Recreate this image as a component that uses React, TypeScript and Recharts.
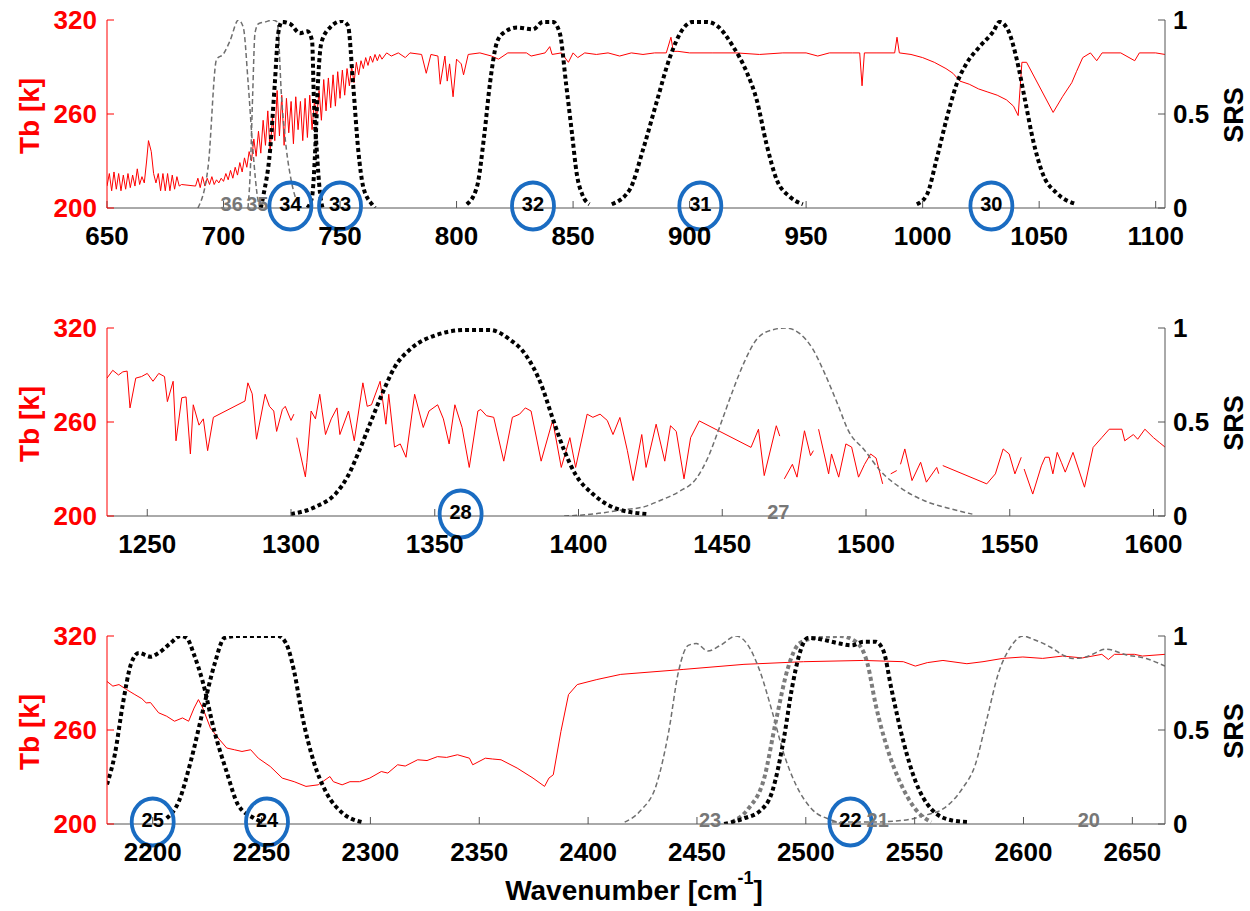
import React from "react";
import { LineChart, Line, XAxis, YAxis, ReferenceDot, Label } from "recharts";

type Pt = [number, number | null];

const FONT = "'Liberation Sans', Arial, Helvetica, sans-serif";

// ---------- panel 1 (650 - 1100 cm-1) ----------
const ticks1 = [650, 700, 750, 800, 850, 900, 950, 1000, 1050, 1100];
const tb1: Pt[] = [
  [650, 214], [651, 222], [652, 211], [653, 223], [654, 212], [655, 222], [656, 211], [657, 221],
  [658, 212], [659, 222], [660, 213], [661, 221], [662, 214], [663, 225], [664, 215], [665, 220],
  [666, 216], [667, 230], [667.8, 243], [669, 236], [670, 222], [671, 216], [672, 222], [673, 211],
  [674, 222], [675, 211], [676, 222], [677, 211], [678, 221], [679, 212], [680, 220], [681, 214],
  [682, 215], [688, 214], [689, 219], [690, 213], [691, 220], [692, 214], [693, 219], [694, 215],
  [695, 220], [696, 215], [697, 218], [698, 216], [699, 219], [700, 217], [701, 222], [702, 218],
  [703, 224], [704, 219], [705, 226], [706, 221], [707, 229], [708, 223], [709, 232], [710, 226],
  [711, 236], [712, 230], [713, 244], [714, 233], [715, 249], [716, 235], [717, 256], [718, 240],
  [719, 262], [720, 236], [721, 258], [722, 243], [723, 275], [724, 246], [725, 272], [726, 240],
  [727, 270], [728, 248], [729, 268], [730, 241], [731, 271], [732, 250], [733, 268], [734, 243],
  [735, 270], [736, 245], [737, 272], [738, 250], [739, 268], [740, 258], [741, 275], [742, 256],
  [743, 282], [744, 262], [745, 283], [746, 264], [747, 285], [748, 265], [749, 287], [750, 270],
  [751, 288], [752, 272], [753, 289], [754, 278], [755, 290], [756, 280], [757, 293], [758, 285],
  [759, 294], [760, 289], [761, 296], [762, 291], [763, 297], [764, 293], [765, 298], [766, 294],
  [767, 298], [768, 295], [770, 299], [772, 297], [775, 299], [778, 296], [780, 299], [785, 298],
  [787, 286], [789, 298], [792, 297], [793, 279], [795, 297], [796, 281], [797, 292], [798.5, 271],
  [800, 295], [802, 292], [803, 285], [805, 298], [810, 299], [815, 297], [818, 295], [822, 299],
  [830, 299], [832, 297], [838, 299], [840, 303], [841, 298], [845, 299], [848, 293], [850, 299],
  [852, 296], [855, 299], [860, 298], [865, 299], [870, 297], [875, 299], [880, 298], [885, 299],
  [890, 299], [892, 309], [893, 300], [895, 300], [900, 299], [910, 299], [920, 299], [930, 298],
  [940, 299], [950, 299], [955, 297], [960, 299], [970, 299], [973, 299], [974, 278], [975, 299],
  [980, 299], [988, 299], [989, 309], [990, 299], [995, 298], [1000, 296], [1005, 293], [1010, 289],
  [1013, 286], [1016, 281], [1020, 279], [1024, 276], [1028, 274], [1032, 272], [1036, 269],
  [1039, 265], [1041, 259], [1042.6, 293], [1044.6, 293], [1056, 261], [1060, 271], [1064, 280],
  [1066, 287], [1068.7, 296], [1072, 299], [1074.7, 294], [1077, 299], [1085, 299], [1091, 294],
  [1093, 299], [1100, 299], [1104, 298],
];
const srs36: Pt[] = [
  [689, 0], [693.4, 0.22], [697, 0.79], [700, 0.82], [702.8, 0.89], [706.4, 1.0], [708.5, 0.96],
  [710.6, 0.66], [712.6, 0.31], [714.8, 0.04], [715.6, 0],
];
const srs35: Pt[] = [
  [710.5, 0], [711.5, 0.2], [712.5, 0.6], [713.5, 0.93], [715, 0.98], [718, 0.99], [721, 1.0],
  [723, 0.99], [725, 0.57], [727, 0.31], [729, 0.15], [731, 0.05], [733, 0],
];
const srs34: Pt[] = [
  [716, 0], [717, 0.06], [720, 0.31], [722, 0.66], [723.5, 0.93], [725, 0.99], [728.5, 0.98],
  [732.8, 0.93], [736, 0.94], [738, 0.89], [738.8, 0.57], [740, 0.31], [741.4, 0.08], [742.5, 0],
];
const srs33: Pt[] = [
  [736, 0], [738, 0.06], [739.5, 0.35], [740.5, 0.66], [742, 0.88], [745.7, 0.96], [751, 0.995],
  [753.4, 0.97], [755.6, 0.66], [757.8, 0.31], [760, 0.11], [763.7, 0.02], [765, 0],
];
const srs32: Pt[] = [
  [804.4, 0.02], [808.7, 0.11], [812, 0.4], [814.3, 0.66], [817.3, 0.88], [820, 0.93], [826, 0.96],
  [832.8, 0.95], [837, 0.99], [841.3, 0.99], [844.3, 0.93], [847, 0.66], [849.5, 0.4],
  [851.6, 0.18], [854, 0.07], [857, 0.02],
];
const srs31: Pt[] = [
  [866.6, 0.02], [874.4, 0.1], [880, 0.31], [886, 0.57], [891.5, 0.8], [897, 0.95], [901.4, 0.99],
  [907.4, 0.99], [911.7, 0.97], [918.6, 0.86], [924.6, 0.72], [928.9, 0.57], [933, 0.34],
  [937.4, 0.15], [943, 0.06], [948.6, 0.02],
];
const srs30: Pt[] = [
  [997.5, 0.02], [1001.8, 0.07], [1006, 0.26], [1010.4, 0.48], [1014.6, 0.66], [1018.9, 0.77],
  [1024.6, 0.86], [1030.4, 0.94], [1033, 0.99], [1036.5, 0.95], [1040.4, 0.79], [1044, 0.57],
  [1047.4, 0.36], [1051.6, 0.18], [1057.5, 0.08], [1066, 0.02],
];
const marks1 = [
  { x: 703.5, text: "36", circled: false },
  { x: 714.5, text: "35", circled: false },
  { x: 728.7, text: "34", circled: true },
  { x: 750, text: "33", circled: true },
  { x: 832.8, text: "32", circled: true },
  { x: 904.6, text: "31", circled: true },
  { x: 1029.5, text: "30", circled: true },
];

// ---------- panel 2 (1250 - 1600 cm-1) ----------
const ticks2 = [1250, 1300, 1350, 1400, 1450, 1500, 1550, 1600];
const tb2: Pt[] = [
  [1236, 288], [1238, 293], [1240, 290], [1241.5, 292], [1243, 292.5], [1244, 269], [1246, 288],
  [1248, 289], [1250, 291], [1252, 286], [1254, 291], [1256, 289], [1257, 273], [1259, 286],
  [1260, 248], [1262, 275.5], [1263.5, 276], [1265, 239.6], [1266, 271], [1268, 258],
  [1269.5, 262], [1271, 241.7], [1273, 263], [1284, 273.4], [1285, 285], [1286.5, 278],
  [1288, 249], [1291, 277.7], [1292.5, 270], [1294, 267], [1295, 254], [1297, 268], [1298, 270],
  [1300, 261], [1301, 265], [1301.5, null], [1302, 250], [1305, 225], [1305.5, 234], [1307, 267],
  [1308.5, 262], [1310, 277.7], [1312, 252], [1314, 262], [1316, 269], [1317, 252], [1320, 267],
  [1322, 248], [1325, 285], [1326.5, 270], [1328, 271], [1331, 286], [1333, 258.6],
  [1334, 277.7], [1336, 244], [1338, 246], [1340, 237.5], [1343, 277.7], [1346, 256.5],
  [1348, 267], [1351, 271], [1353, 262], [1355, 246], [1357, 271], [1359.5, 256.5], [1362, 231],
  [1365, 267], [1366, 268], [1368, 264], [1370.5, 263], [1374, 235], [1377, 263], [1379.5, 265],
  [1381.5, 269], [1383.5, 267], [1387, 235], [1391, 261], [1394, 231], [1397, 250], [1399, 231],
  [1403, 265], [1405, 263], [1407.5, 265], [1410, 261], [1412, 252], [1414.4, 262.9],
  [1417, 241.7], [1419, 222.6], [1422, 252], [1423.5, 231], [1427, 258.6], [1430, 235],
  [1432, 257.6], [1434, 254], [1436.7, 223.7], [1439, 250], [1442, 260.7], [1460, 243.8],
  [1462.6, 255.4], [1464.6, 225.8], [1468.8, 257.6], [1470, 251], [1470.8, null],
  [1471.6, 223.7], [1474.4, 233], [1476, 224.8], [1478.6, 254.4], [1480.7, 238.5],
  [1481.7, 241.7], [1482.5, null], [1483.5, 255.4], [1487, 226.9], [1488, 239.6],
  [1490.5, 224.8], [1493, 246], [1495, 244], [1497.4, 224.8], [1499.5, 233], [1501.6, 239.6],
  [1503.5, 237], [1505.8, 220.5], [1507, null], [1508.6, 226.9], [1510.7, 229], [1511.3, null],
  [1512, 233], [1513.5, 242.8], [1516, 222.6], [1519, 234.3], [1521, 221.6], [1524.6, 231],
  [1525.3, 227], [1526, null], [1526.7, 232.2], [1542, 220.5], [1545, 226.9], [1547.7, 242.8],
  [1549.8, 239.6], [1551.8, 226.9], [1554, 237.5], [1554.5, null], [1555, 230], [1558, 214],
  [1561, 232], [1562.3, 237.5], [1563.7, 237.5], [1565, 226.9], [1566.5, 240.6], [1568, 234],
  [1569.3, 228], [1572, 240.6], [1576, 218.4], [1579, 243.8], [1582, 250], [1584.6, 255.4],
  [1589, 255.4], [1590, 248], [1593, 252], [1594.5, 249], [1597, 255.4], [1600, 250],
  [1602, 247], [1604, 244],
];
const srs28: Pt[] = [
  [1300, 0.01], [1308.7, 0.05], [1315.6, 0.12], [1319.7, 0.21], [1323.8, 0.35], [1328, 0.51],
  [1332, 0.66], [1336, 0.79], [1341.7, 0.89], [1350, 0.96], [1361, 0.99], [1369, 0.99],
  [1376, 0.94], [1381.5, 0.86], [1387, 0.7], [1391, 0.52], [1395, 0.35], [1399, 0.22],
  [1404.8, 0.12], [1413, 0.04], [1424, 0.01],
];
const srs27: Pt[] = [
  [1395, 0], [1405, 0.01], [1414, 0.03], [1423, 0.05], [1428, 0.08], [1435, 0.13], [1441, 0.2],
  [1445, 0.31], [1449, 0.47], [1453.5, 0.66], [1457.7, 0.82], [1462, 0.94], [1467.4, 0.99],
  [1472, 1.0], [1477, 0.97], [1481.4, 0.89], [1485.6, 0.76], [1490, 0.6], [1494, 0.45],
  [1499.5, 0.35], [1505, 0.24], [1512, 0.15], [1520.5, 0.08], [1529, 0.04], [1537, 0.01],
];
const marks2 = [
  { x: 1359, text: "28", circled: true },
  { x: 1469.5, text: "27", circled: false },
];

// ---------- panel 3 (2200 - 2650 cm-1) ----------
const ticks3 = [2200, 2250, 2300, 2350, 2400, 2450, 2500, 2550, 2600, 2650];
const tb3: Pt[] = [
  [2179, 291], [2181.7, 288], [2184.5, 289], [2188, 285.8], [2191.8, 282.6], [2195, 280],
  [2197, 277.3], [2199, 277.5], [2202.7, 271], [2206.4, 268.8], [2210, 265.6], [2213.7, 267.7],
  [2216.5, 265.6], [2219, 274], [2221, 279.4], [2223, 274], [2226.5, 261.3], [2230, 255],
  [2234, 248.5], [2237.5, 247.4], [2241, 246.3], [2245, 247.4], [2248.5, 242], [2254, 236.7],
  [2259.5, 229.3], [2265, 227], [2270.4, 224], [2276, 225], [2281.4, 230.3], [2283, 227],
  [2287, 225], [2290.6, 227], [2295, 227], [2299.7, 229.3], [2305, 233.5], [2308, 232.5],
  [2312.5, 237.8], [2316, 237], [2321.7, 241], [2326, 240.5], [2330.8, 243], [2335, 242.5],
  [2340, 244.2], [2345.5, 242], [2347, 237.8], [2352.8, 242], [2356, 241.5], [2360, 241],
  [2367.4, 235.7], [2374.7, 229.3], [2380, 224], [2382, 229.3], [2384, 231.4],
  [2387.5, 259], [2391, 282.6], [2395, 289], [2404, 292.2], [2415, 295.5], [2444, 298.7],
  [2471.6, 301.9], [2499, 303.6], [2526.5, 304.4], [2544.8, 303.6], [2550.3, 300.8],
  [2555.8, 303], [2563, 304.4], [2574, 302.3], [2581.4, 303.6], [2590.5, 305.7],
  [2599.7, 306.6], [2608.8, 305.7], [2618, 307.2], [2627, 306], [2636, 308.3], [2639, 305],
  [2641.8, 308.3], [2651, 308.3], [2654.6, 307.2], [2665, 308.3],
];
const srs25: Pt[] = [
  [2179, 0.21], [2182.6, 0.37], [2186.3, 0.64], [2190, 0.85], [2193.6, 0.91], [2199, 0.89],
  [2202.7, 0.91], [2208, 0.96], [2212.8, 1.0], [2215.6, 0.99], [2219, 0.9], [2222.9, 0.76],
  [2228.4, 0.49], [2233.9, 0.28], [2239.3, 0.1], [2246.7, 0.03], [2250, 0.01],
];
const srs24: Pt[] = [
  [2206.4, 0.03], [2212, 0.12], [2217.4, 0.33], [2223, 0.6], [2228.4, 0.85], [2233, 0.99],
  [2239.3, 1], [2257.6, 1], [2261.3, 0.96], [2265, 0.81], [2268.6, 0.58], [2274, 0.33],
  [2279.6, 0.17], [2287, 0.06], [2296, 0.01],
];
const srs23: Pt[] = [
  [2416.8, 0.01], [2424, 0.07], [2431.4, 0.21], [2437, 0.49], [2441.5, 0.81], [2446, 0.95],
  [2449.7, 0.96], [2455, 0.92], [2460.7, 0.95], [2468, 1.0], [2473.5, 0.95], [2479, 0.81],
  [2484.5, 0.6], [2490, 0.37], [2495.4, 0.21], [2502.7, 0.08], [2512, 0.02], [2517, 0],
];
const srs22: Pt[] = [
  [2462.5, 0], [2471.6, 0.03], [2479, 0.07], [2484.5, 0.17], [2490, 0.46], [2493.6, 0.72],
  [2497, 0.9], [2501, 0.99], [2508, 0.98], [2515.5, 0.96], [2521, 0.95], [2526.5, 0.97],
  [2532, 0.97], [2535.7, 0.92], [2539.3, 0.72], [2544.8, 0.44], [2550.3, 0.23], [2557.6, 0.08],
  [2566.8, 0.02], [2575, 0.01],
];
const srs21: Pt[] = [
  [2466, 0.01], [2473.5, 0.08], [2480.8, 0.24], [2486.3, 0.55], [2491.8, 0.83], [2497, 0.96],
  [2504.6, 0.99], [2515.5, 1.0], [2522.9, 0.97], [2528.4, 0.85], [2532, 0.64], [2537.5, 0.4],
  [2543, 0.23], [2550.3, 0.08], [2557.6, 0.01],
];
const srs20: Pt[] = [
  [2512, 0.01], [2530, 0.01], [2545, 0.02], [2555.8, 0.05], [2563, 0.08], [2572, 0.19],
  [2577.7, 0.31], [2583, 0.55], [2588.7, 0.81], [2594, 0.94], [2599.7, 1.0], [2605, 0.98],
  [2612.5, 0.94], [2618, 0.9], [2622.6, 0.88], [2629, 0.89], [2638, 0.93], [2647, 0.9],
  [2656.4, 0.88], [2665, 0.84],
];
const marks3 = [
  { x: 2200, text: "25", circled: true },
  { x: 2252.5, text: "24", circled: true },
  { x: 2456, text: "23", circled: false },
  { x: 2520.5, text: "22", circled: true },
  { x: 2533, text: "21", circled: false },
  { x: 2630, text: "20", circled: false },
];

const toRows = (pts: Pt[]) => pts.map(([x, y]) => ({ x, y }));

type Kind = "black" | "gray" | "grayThick";
const STYLE: Record<Kind, { stroke: string; width: number; dash: string }> = {
  black: { stroke: "#000000", width: 4, dash: "4 3" },
  gray: { stroke: "#6f6f6f", width: 1.5, dash: "5 3" },
  grayThick: { stroke: "#7c7c7c", width: 4, dash: "4 3" },
};

interface Mark {
  x: number;
  text: string;
  circled: boolean;
}

function BandMark(props: any) {
  const { cx, cy, text, circled } = props;
  if (cx == null || cy == null) return null;
  return (
    <g>
      <text
        x={cx}
        y={cy - 4}
        textAnchor="middle"
        dominantBaseline="central"
        fontFamily={FONT}
        fontWeight="bold"
        fontSize={20}
        fill={circled ? "#000" : "#777"}
      >
        {text}
      </text>
      {circled && (
        <ellipse cx={cx} cy={cy - 2} rx={21} ry={23.5} fill="none" stroke="#1a6cc2" strokeWidth={3.8} />
      )}
    </g>
  );
}

interface PanelProps {
  top: number;
  height: number;
  domain: [number, number];
  ticks: number[];
  tb: Pt[];
  srf: { pts: Pt[]; kind: Kind }[];
  marks: Mark[];
  title?: boolean;
}

const tickFont = { fontFamily: FONT, fontWeight: "bold" as const, fontSize: 26 };

function Panel({ top, height, domain, ticks, tb, srf, marks, title }: PanelProps) {
  return (
    <div style={{ position: "absolute", left: 0, top }}>
      <LineChart
        width={1250}
        height={height}
        margin={{ top: 20, right: 40, bottom: height - 248, left: 0 }}
      >
        <XAxis
          xAxisId="b"
          dataKey="x"
          type="number"
          domain={domain}
          ticks={ticks}
          allowDataOverflow
          interval={0}
          height={40}
          tickSize={-7}
          tickMargin={26}
          axisLine={{ stroke: "#555" }}
          tickLine={{ stroke: "#555" }}
          tick={{ ...tickFont, fill: "#000" }}
        >
          {title && (
            <Label
              content={() => (
                <text
                  x={634}
                  y={274}
                  textAnchor="middle"
                  dominantBaseline="central"
                  fontFamily={FONT}
                  fontWeight="bold"
                  fontSize={28}
                  fill="#000"
                >
                  Wavenumber [cm
                  <tspan fontSize={18} dy={-12}>-1</tspan>
                  <tspan dy={12}>]</tspan>
                </text>
              )}
            />
          )}
        </XAxis>
        <XAxis
          xAxisId="t"
          orientation="top"
          dataKey="x"
          type="number"
          domain={domain}
          ticks={ticks}
          allowDataOverflow
          interval={0}
          height={0}
          tickSize={-7}
          tickFormatter={() => ""}
          axisLine={{ stroke: "#555" }}
          tickLine={{ stroke: "#555" }}
        />
        <YAxis
          yAxisId="tb"
          domain={[200, 320]}
          ticks={[200, 260, 320]}
          allowDataOverflow
          width={107}
          tickSize={-7}
          tickMargin={17}
          axisLine={{ stroke: "#ff0000" }}
          tickLine={{ stroke: "#ff0000" }}
          tick={{ ...tickFont, fill: "#ff0000" }}
        >
          <Label
            content={() => (
              <text
                x={29}
                y={116}
                transform="rotate(-90 29 116)"
                textAnchor="middle"
                dominantBaseline="central"
                fontFamily={FONT}
                fontWeight="bold"
                fontSize={28}
                fill="#ff0000"
              >
                Tb [k]
              </text>
            )}
          />
        </YAxis>
        <YAxis
          yAxisId="srs"
          orientation="right"
          domain={[0, 1]}
          ticks={[0, 0.5, 1]}
          allowDataOverflow
          width={45}
          tickSize={-7}
          tickMargin={15}
          tickFormatter={(v: number) => String(v)}
          axisLine={{ stroke: "#555" }}
          tickLine={{ stroke: "#555" }}
          tick={{ ...tickFont, fill: "#000" }}
        >
          <Label
            content={() => (
              <text
                x={1234}
                y={115}
                transform="rotate(-90 1234 115)"
                textAnchor="middle"
                dominantBaseline="central"
                fontFamily={FONT}
                fontWeight="bold"
                fontSize={27}
                fill="#000"
              >
                SRS
              </text>
            )}
          />
        </YAxis>

        {marks.map((m) => (
          <ReferenceDot
            key={m.text}
            xAxisId="b"
            yAxisId="srs"
            x={m.x}
            y={0}
            r={0}
            shape={(p: any) => <BandMark {...p} text={m.text} circled={m.circled} />}
          />
        ))}

        <Line
          xAxisId="b"
          yAxisId="tb"
          data={toRows(tb)}
          dataKey="y"
          type="linear"
          stroke="#ff0000"
          strokeWidth={1}
          dot={false}
          activeDot={false}
          isAnimationActive={false}
        />
        {srf.map((s, i) => (
          <Line
            key={i}
            xAxisId="b"
            yAxisId="srs"
            data={toRows(s.pts)}
            dataKey="y"
            type="monotone"
            stroke={STYLE[s.kind].stroke}
            strokeWidth={STYLE[s.kind].width}
            strokeDasharray={STYLE[s.kind].dash}
            dot={false}
            activeDot={false}
            isAnimationActive={false}
          />
        ))}
      </LineChart>
    </div>
  );
}

export default function App() {
  return (
    <div style={{ position: "absolute", left: 0, top: 0, width: 1250, height: 911, background: "#fff" }}>
      <Panel
        top={0}
        height={260}
        domain={[650, 1104]}
        ticks={ticks1}
        tb={tb1}
        srf={[
          { pts: srs36, kind: "gray" },
          { pts: srs35, kind: "gray" },
          { pts: srs34, kind: "black" },
          { pts: srs33, kind: "black" },
          { pts: srs32, kind: "black" },
          { pts: srs31, kind: "black" },
          { pts: srs30, kind: "black" },
        ]}
        marks={marks1}
      />
      <Panel
        top={308}
        height={260}
        domain={[1236, 1604]}
        ticks={ticks2}
        tb={tb2}
        srf={[
          { pts: srs27, kind: "gray" },
          { pts: srs28, kind: "black" },
        ]}
        marks={marks2}
      />
      <Panel
        top={616}
        height={295}
        domain={[2179, 2665]}
        ticks={ticks3}
        tb={tb3}
        srf={[
          { pts: srs23, kind: "gray" },
          { pts: srs20, kind: "gray" },
          { pts: srs21, kind: "grayThick" },
          { pts: srs25, kind: "black" },
          { pts: srs24, kind: "black" },
          { pts: srs22, kind: "black" },
        ]}
        marks={marks3}
        title
      />
    </div>
  );
}
